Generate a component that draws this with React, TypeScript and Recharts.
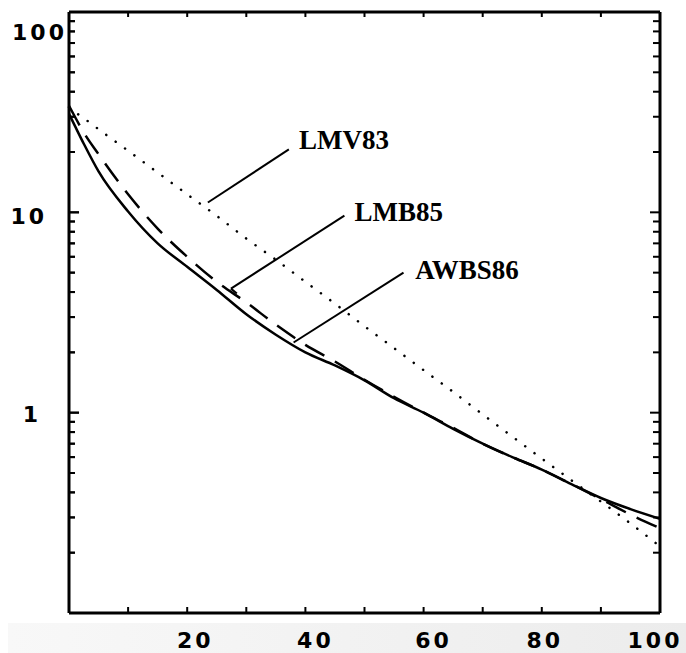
import {
  ComposedChart,
  Line,
  Scatter,
  XAxis,
  YAxis,
  ReferenceLine,
  ReferenceDot,
} from 'recharts'

const energy = [0, 1, 2.5, 5, 10, 15, 20, 25, 30, 35, 40, 45, 50, 55, 60, 65, 70, 75, 80, 85, 90, 95, 100]
const awbs86 = [31, 27, 22, 16, 10.1, 7.0, 5.35, 4.1, 3.1, 2.45, 2.0, 1.72, 1.45, 1.18, 1.0, 0.83, 0.7, 0.6, 0.52, 0.44, 0.375, 0.33, 0.295]
const lmb85 = [34, 30, 25, 19.5, 12.3, 8.3, 6.0, 4.5, 3.55, 2.75, 2.18, 1.8, 1.46, 1.2, 1.0, 0.84, 0.7, 0.6, 0.52, 0.44, 0.37, 0.31, 0.265]
const lmv83 = [33.5, 31.7, 29.5, 26, 20.3, 15.8, 12.3, 9.6, 7.4, 5.8, 4.5, 3.5, 2.7, 2.1, 1.63, 1.27, 0.98, 0.76, 0.59, 0.46, 0.36, 0.28, 0.215]

const xLabelTicks = [20, 40, 60, 80, 100]
const xMinorTicks = [10, 20, 30, 40, 50, 60, 70, 80, 90]
const yLabelTicks = [1, 10, 100]
const yMinorTicks = [0.2, 0.3, 0.4, 0.5, 0.6, 0.7, 0.8, 0.9, 2, 3, 4, 5, 6, 7, 8, 9, 20, 30, 40, 50, 60, 70, 80, 90]

const data = energy.map((x, i) => ({
  x,
  AWBS86: awbs86[i],
  LMB85: lmb85[i],
  LMV83: lmv83[i],
}))

// tick marks along the bottom and top of the frame
const bottomTickData = xMinorTicks.map((v) => ({ x: v, y: 0.1 }))
const topTickData = xMinorTicks.map((v) => ({ x: v, y: 100 }))

// inward ticks on the left frame: major ~10px, minor ~6px (in x units)
const leftTicks = [
  ...yLabelTicks.map((v) => ({ v, len: 1.7, px: 10 })),
  ...yMinorTicks.map((v) => ({ v, len: 1.0, px: 6 })),
]

// leader lines for the curve names (data units)
const leaders = [
  { name: 'LMV83', line: [[23.5, 11.2], [37.2, 20.6]], text: [38.9, 23.1] },
  { name: 'LMB85', line: [[28.4, 3.93], [27.4, 4.16], [46.6, 9.63]], text: [48.3, 10.1] },
  { name: 'AWBS86', line: [[38.0, 2.24], [56.6, 5.0]], text: [58.6, 5.18] },
]

const frame = { stroke: '#000', strokeWidth: 3 }
const tickStyle = { stroke: '#000', strokeWidth: 2 }
const axisFont = { fontFamily: 'DejaVu Sans', fontWeight: 700, fontSize: 22, letterSpacing: 3 }

// left ticks point into the plot
const leftTickSize = -8

// the scanned labels sit a little off their ticks
const xLabelShift: Record<number, number> = { 20: 8, 40: 10, 60: 10, 80: 3, 100: -5 }
const yLabelShift: Record<number, [number, number]> = {
  100: [-2, 20],
  10: [-22, 4],
  1: [-28, 2],
}

const XTick = (props: any) => {
  const { x, y, payload } = props
  return (
    <text
      x={x + (xLabelShift[payload.value] || 0)}
      y={y + 27}
      textAnchor="middle"
      dominantBaseline="central"
      fill="#000"
      {...axisFont}
    >
      {payload.value}
    </text>
  )
}

const YTick = (props: any) => {
  const { x, y, payload } = props
  const shift = yLabelShift[payload.value]
  if (!shift) return <g />
  return (
    <text
      x={x + leftTickSize + shift[0]}
      y={y + shift[1]}
      textAnchor="end"
      dominantBaseline="central"
      fill="#000"
      {...axisFont}
    >
      {payload.value}
    </text>
  )
}

const NoLabel = () => <g />

const BottomMark = (props: any) => {
  const { cx, cy } = props
  return <line x1={cx} y1={cy} x2={cx} y2={cy - 6} stroke="#000" strokeWidth={2} />
}
const TopMark = (props: any) => {
  const { cx, cy } = props
  return <line x1={cx} y1={cy} x2={cx} y2={cy + 5} stroke="#000" strokeWidth={2} />
}

export default function App() {
  return (
    <div style={{ position: 'absolute', left: 0, top: 0, width: 686, height: 653, background: '#fff' }}>
      <div
        style={{
          position: 'absolute',
          left: 8,
          top: 623,
          width: 678,
          height: 30,
          background: 'linear-gradient(to right, #f8f8f8, #ececec)',
        }}
      />
      <div style={{ position: 'absolute', left: 0, top: 0 }}>
        <ComposedChart width={686} height={653} data={data} margin={{ top: 12, right: 26, left: 0, bottom: 0 }}>
          <XAxis
            dataKey="x"
            type="number"
            domain={[0, 100]}
            ticks={xLabelTicks}
            interval={0}
            height={40}
            tickLine={false}
            tickSize={0}
            tickMargin={0}
            axisLine={frame}
            tick={XTick}
          />
          <XAxis
            xAxisId="top"
            orientation="top"
            type="number"
            domain={[0, 100]}
            ticks={xMinorTicks}
            interval={0}
            mirror
            height={1}
            tick={NoLabel}
            tickLine={false}
            axisLine={frame}
          />
          <YAxis
            type="number"
            scale="log"
            domain={[0.1, 100]}
            allowDataOverflow
            ticks={yLabelTicks}
            interval={0}
            width={69}
            tickLine={false}
            tickSize={leftTickSize}
            tickMargin={0}
            axisLine={frame}
            tick={YTick}
          />
          <YAxis
            yAxisId="rightMajor"
            orientation="right"
            type="number"
            scale="log"
            domain={[0.1, 100]}
            allowDataOverflow
            ticks={yLabelTicks}
            interval={0}
            mirror
            width={1}
            tick={NoLabel}
            axisLine={frame}
            tickSize={10}
            tickLine={tickStyle}
          />
          <YAxis
            yAxisId="rightMinor"
            orientation="right"
            type="number"
            scale="log"
            domain={[0.1, 100]}
            allowDataOverflow
            ticks={yMinorTicks}
            interval={0}
            mirror
            width={1}
            tick={NoLabel}
            axisLine={false}
            tickSize={6}
            tickLine={tickStyle}
          />

          <Scatter data={bottomTickData} dataKey="y" shape={BottomMark} isAnimationActive={false} />
          <Scatter data={topTickData} dataKey="y" shape={TopMark} isAnimationActive={false} />

          {/* left frame ticks, drawn as short two-point series */}
          {leftTicks.map((t) => (
            <Line
              key={'lt' + t.v}
              data={[
                { x: 0, tick: t.v },
                { x: t.len, tick: t.v },
              ]}
              dataKey="tick"
              type="linear"
              stroke="#000"
              strokeWidth={2}
              dot={false}
              activeDot={false}
              legendType="none"
              isAnimationActive={false}
            />
          ))}
          {/* same ticks again as short dashes of a horizontal reference line */}
          {leftTicks.map((t) => (
            <ReferenceLine
              key={'lr' + t.v}
              y={t.v}
              stroke="#000"
              strokeWidth={2}
              strokeDasharray={`${t.px} 3000`}
              ifOverflow="visible"
            />
          ))}

          <Line
            type="monotone"
            dataKey="LMV83"
            stroke="#000"
            strokeWidth={2.5}
            strokeDasharray="0.1 11.5"
            strokeLinecap="round"
            dot={false}
            isAnimationActive={false}
          />
          <Line
            type="monotone"
            dataKey="LMB85"
            stroke="#000"
            strokeWidth={2.5}
            strokeDasharray="22 12"
            dot={false}
            isAnimationActive={false}
          />
          <Line
            type="monotone"
            dataKey="AWBS86"
            stroke="#000"
            strokeWidth={2.5}
            dot={false}
            isAnimationActive={false}
          />

          {leaders.map((l) =>
            l.line.slice(1).map((p, i) => (
              <ReferenceLine
                key={l.name + i}
                segment={[
                  { x: l.line[i][0], y: l.line[i][1] },
                  { x: p[0], y: p[1] },
                ]}
                stroke="#000"
                strokeWidth={2}
                ifOverflow="visible"
              />
            ))
          )}
          {leaders.map((l) => (
            <ReferenceDot
              key={'t' + l.name}
              x={l.text[0]}
              y={l.text[1]}
              r={0.01}
              fill="none"
              stroke="none"
              ifOverflow="visible"
              label={{
                value: l.name,
                position: 'right',
                offset: 0,
                fill: '#000',
                fontSize: 27,
                fontWeight: 700,
                fontFamily: 'Liberation Serif',
              }}
            />
          ))}
        </ComposedChart>
      </div>
    </div>
  )
}
